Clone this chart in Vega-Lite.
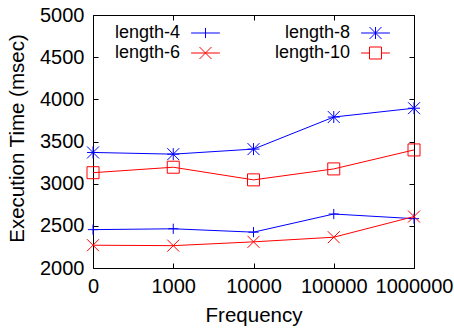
{
  "$schema": "https://vega.github.io/schema/vega-lite/v6.json",
  "width": 321,
  "height": 253,
  "autosize": {"type": "none"},
  "padding": {"left": 93, "top": 15, "right": 40, "bottom": 63},
  "background": "white",
  "config": {
    "view": {"stroke": null},
    "font": "Liberation Sans",
    "axis": {
      "labelFont": "Liberation Sans",
      "titleFont": "Liberation Sans",
      "labelFontSize": 20,
      "titleFontSize": 20.5,
      "titleFontWeight": "normal",
      "labelColor": "black",
      "titleColor": "black",
      "domainColor": "black",
      "tickColor": "black",
      "grid": false,
      "tickSize": -5,
      "domainWidth": 1,
      "tickWidth": 1
    },
    "legend": {
      "padding": 0,
      "orient": "none",
      "direction": "horizontal",
      "columns": 1,
      "title": null,
      "labelFont": "Liberation Sans",
      "labelFontSize": 18,
      "labelColor": "black",
      "labelAlign": "right",
      "labelOffset": -34.5,
      "symbolOffset": 90,
      "symbolSize": 144,
      "symbolStrokeWidth": 1,
      "symbolOpacity": 1,
      "symbolFillColor": "transparent",
      "rowPadding": 0
    }
  },
  "data": {
    "values": [
      {"freq": "0", "series": "length-4", "time": 2455},
      {"freq": "1000", "series": "length-4", "time": 2465},
      {"freq": "10000", "series": "length-4", "time": 2425},
      {"freq": "100000", "series": "length-4", "time": 2640},
      {"freq": "1000000", "series": "length-4", "time": 2585},
      {"freq": "0", "series": "length-6", "time": 2270},
      {"freq": "1000", "series": "length-6", "time": 2265},
      {"freq": "10000", "series": "length-6", "time": 2310},
      {"freq": "100000", "series": "length-6", "time": 2365},
      {"freq": "1000000", "series": "length-6", "time": 2610},
      {"freq": "0", "series": "length-8", "time": 3370},
      {"freq": "1000", "series": "length-8", "time": 3350},
      {"freq": "10000", "series": "length-8", "time": 3410},
      {"freq": "100000", "series": "length-8", "time": 3790},
      {"freq": "1000000", "series": "length-8", "time": 3895},
      {"freq": "0", "series": "length-10", "time": 3130},
      {"freq": "1000", "series": "length-10", "time": 3195},
      {"freq": "10000", "series": "length-10", "time": 3045},
      {"freq": "100000", "series": "length-10", "time": 3175},
      {"freq": "1000000", "series": "length-10", "time": 3400}
    ]
  },
  "layer": [
    {
      "mark": {"type": "line", "strokeWidth": 1},
      "encoding": {
        "x": {
          "field": "freq", "type": "ordinal",
          "sort": ["0", "1000", "10000", "100000", "1000000"],
          "scale": {"type": "point", "padding": 0},
          "axis": {"orient": "bottom", "title": "Frequency", "labelAngle": 0, "labelPadding": 13.5, "titleY": 53, "titleBaseline": "alphabetic"}
        },
        "y": {
          "field": "time", "type": "quantitative",
          "scale": {"domain": [2000, 5000], "nice": false, "zero": false},
          "axis": {"orient": "left", "values": [2000, 2500, 3000, 3500, 4000, 4500, 5000], "format": "d", "title": "Execution Time (msec)", "labelPadding": 14, "titleX": -70, "titleY": 123, "titleBaseline": "alphabetic"}
        },
        "color": {
          "field": "series", "type": "nominal",
          "scale": {"domain": ["length-4", "length-6", "length-8", "length-10"], "range": ["#0000ff", "#ff0000", "#0000ff", "#ff0000"]},
          "legend": null
        }
      }
    },
    {
      "mark": {"type": "point", "filled": false, "size": 144, "strokeWidth": 1, "opacity": 1},
      "encoding": {
        "x": {
          "field": "freq", "type": "ordinal",
          "sort": ["0", "1000", "10000", "100000", "1000000"],
          "scale": {"type": "point", "padding": 0},
          "axis": {"orient": "top", "labels": false, "title": null}
        },
        "y": {
          "field": "time", "type": "quantitative",
          "scale": {"domain": [2000, 5000], "nice": false, "zero": false},
          "axis": {"orient": "right", "values": [2000, 2500, 3000, 3500, 4000, 4500, 5000], "labels": false, "title": null}
        },
        "color": {
          "field": "series", "type": "nominal",
          "scale": {"domain": ["length-4", "length-6", "length-8", "length-10"], "range": ["#0000ff", "#ff0000", "#0000ff", "#ff0000"]},
          "legend": null
        },
        "shape": {
          "field": "series", "type": "nominal",
          "scale": {
            "domain": ["length-4", "length-6", "length-8", "length-10"],
            "range": [
              "M-0.85,0L0.85,0M0,-0.85L0,0.85",
              "M-1,-1L1,1M-1,1L1,-1",
              "M-1,0L1,0M0,-1L0,1M-1,-1L1,1M-1,1L1,-1",
              "M-1,-1L1,-1L1,1L-1,1Z"
            ]
          },
          "legend": null
        }
      }
    },
    {
      "transform": [{"filter": {"field": "series", "equal": "length-4"}}],
      "mark": {"type": "point", "filled": false, "size": 144, "strokeWidth": 1, "opacity": 0},
      "encoding": {
        "x": {"field": "freq", "type": "ordinal", "sort": ["0", "1000", "10000", "100000", "1000000"], "scale": {"type": "point", "padding": 0}, "axis": null},
        "y": {"field": "time", "type": "quantitative", "scale": {"domain": [2000, 5000], "nice": false, "zero": false}, "axis": null},
        "shape": {
          "field": "series", "type": "nominal",
          "scale": {"domain": ["length-4"], "range": ["M-2.4,0L2.4,0M0,-0.85L0,0.85"]},
          "legend": {"legendX": 13.5, "legendY": 9, "symbolStrokeColor": "#0000ff"}
        }
      }
    },
    {
      "transform": [{"filter": {"field": "series", "equal": "length-6"}}],
      "mark": {"type": "point", "filled": false, "size": 144, "strokeWidth": 1, "opacity": 0},
      "encoding": {
        "x": {"field": "freq", "type": "ordinal", "sort": ["0", "1000", "10000", "100000", "1000000"], "scale": {"type": "point", "padding": 0}, "axis": null},
        "y": {"field": "time", "type": "quantitative", "scale": {"domain": [2000, 5000], "nice": false, "zero": false}, "axis": null},
        "shape": {
          "field": "series", "type": "nominal",
          "scale": {"domain": ["length-6"], "range": ["M-2.4,0L2.4,0M-1,-1L1,1M-1,1L1,-1"]},
          "legend": {"legendX": 13.5, "legendY": 29, "symbolStrokeColor": "#ff0000"}
        }
      }
    },
    {
      "transform": [{"filter": {"field": "series", "equal": "length-8"}}],
      "mark": {"type": "point", "filled": false, "size": 144, "strokeWidth": 1, "opacity": 0},
      "encoding": {
        "x": {"field": "freq", "type": "ordinal", "sort": ["0", "1000", "10000", "100000", "1000000"], "scale": {"type": "point", "padding": 0}, "axis": null},
        "y": {"field": "time", "type": "quantitative", "scale": {"domain": [2000, 5000], "nice": false, "zero": false}, "axis": null},
        "shape": {
          "field": "series", "type": "nominal",
          "scale": {"domain": ["length-8"], "range": ["M-2.4,0L2.4,0M0,-1L0,1M-1,-1L1,1M-1,1L1,-1"]},
          "legend": {"legendX": 183.5, "legendY": 9, "symbolStrokeColor": "#0000ff"}
        }
      }
    },
    {
      "transform": [{"filter": {"field": "series", "equal": "length-10"}}],
      "mark": {"type": "point", "filled": false, "size": 144, "strokeWidth": 1, "opacity": 0},
      "encoding": {
        "x": {"field": "freq", "type": "ordinal", "sort": ["0", "1000", "10000", "100000", "1000000"], "scale": {"type": "point", "padding": 0}, "axis": null},
        "y": {"field": "time", "type": "quantitative", "scale": {"domain": [2000, 5000], "nice": false, "zero": false}, "axis": null},
        "shape": {
          "field": "series", "type": "nominal",
          "scale": {"domain": ["length-10"], "range": ["M-2.4,0L-1,0M1,0L2.4,0M-1,-1L1,-1L1,1L-1,1Z"]},
          "legend": {"legendX": 183.5, "legendY": 29, "symbolStrokeColor": "#ff0000"}
        }
      }
    }
  ],
  "resolve": {"scale": {"shape": "independent"}, "axis": {"x": "independent", "y": "independent"}}
}
